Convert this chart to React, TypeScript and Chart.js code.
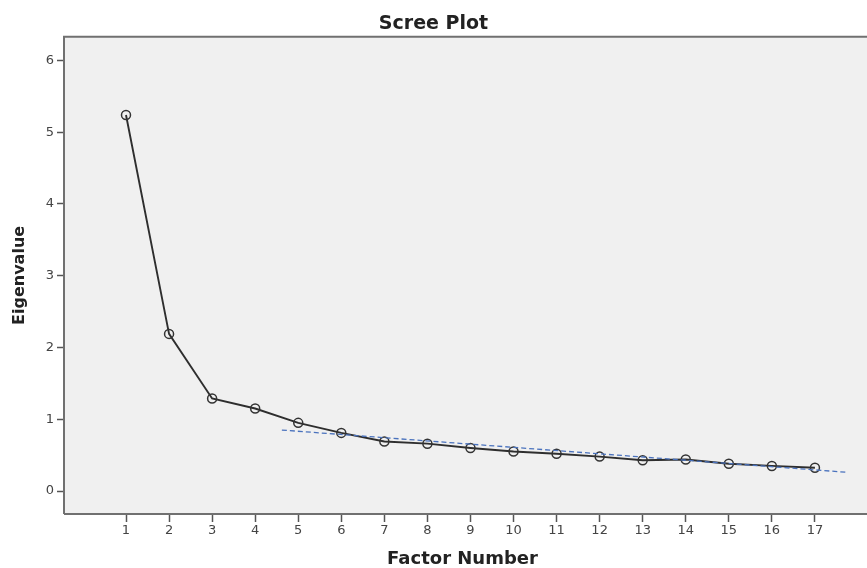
import React, { useEffect, useRef } from "react";
import { Chart, registerables } from "chart.js";

Chart.register(...registerables);

const factorNumbers = [1, 2, 3, 4, 5, 6, 7, 8, 9, 10, 11, 12, 13, 14, 15, 16, 17];
const eigenvalues = [5.24, 2.19, 1.29, 1.15, 0.95, 0.81, 0.69, 0.66, 0.6, 0.55, 0.52, 0.48, 0.43, 0.44, 0.38, 0.35, 0.325];
const trendX = [4.62, 17.77];
const trendY = [0.85, 0.26];
const yTicks = [0, 1, 2, 3, 4, 5, 6];
const xTicks = factorNumbers;

const TITLE = "Scree Plot";
const X_TITLE = "Factor Number";
const Y_TITLE = "Eigenvalue";

const plotBg = {
  id: "plotBg",
  beforeDatasetsDraw(chart: any) {
    const { ctx, chartArea } = chart;
    ctx.save();
    ctx.fillStyle = "#f0f0f0";
    ctx.fillRect(chartArea.left, chartArea.top, chart.width - chartArea.left, chartArea.bottom - chartArea.top);
    ctx.restore();
  },
  afterDraw(chart: any) {
    const { ctx, chartArea } = chart;
    ctx.save();
    ctx.strokeStyle = "#707070";
    ctx.lineWidth = 2;
    ctx.beginPath();
    ctx.moveTo(chartArea.left, chartArea.bottom);
    ctx.lineTo(chartArea.left, chartArea.top);
    ctx.lineTo(chart.width, chartArea.top);
    ctx.moveTo(chartArea.left, chartArea.bottom);
    ctx.lineTo(chart.width, chartArea.bottom);
    ctx.stroke();
    ctx.restore();
  },
};

export default function App() {
  const ref = useRef<HTMLCanvasElement | null>(null);
  useEffect(() => {
    document.body.style.margin = "0";
    const canvas = ref.current!;
    const chart = new Chart(canvas, {
      type: "line",
      data: {
        datasets: [
          {
            label: "trend",
            data: trendX.map((x, i) => ({ x, y: trendY[i] })),
            borderColor: "#4a72bd",
            borderWidth: 1.3,
            borderDash: [5, 3],
            pointRadius: 0,
            fill: false,
            order: 0,
          },
          {
            label: "Eigenvalue",
            data: factorNumbers.map((x, i) => ({ x, y: eigenvalues[i] })),
            borderColor: "#2e2e2e",
            borderWidth: 1.9,
            pointRadius: 4.5,
            pointBorderWidth: 1.5,
            pointBorderColor: "#333333",
            pointBackgroundColor: "rgba(0,0,0,0)",
            fill: false,
            tension: 0,
            order: 1,
          },
        ],
      },
      options: {
        responsive: false,
        animation: false,
        devicePixelRatio: 1,
        layout: { padding: { left: 0, right: 0, top: 0, bottom: 0 } },
        plugins: {
          legend: { display: false },
          tooltip: { enabled: false },
          title: {
            display: true,
            text: TITLE,
            color: "#222",
            font: { family: "DejaVu Sans", size: 19, weight: "bold" },
            padding: { top: 13, bottom: 1 },
          },
        },
        scales: {
          x: {
            type: "linear",
            min: -0.44,
            max: 18.07,
            afterBuildTicks: (s: any) => {
              s.ticks = xTicks.map((v) => ({ value: v }));
            },
            afterFit: (s: any) => {
              s.height = 54;
              s.paddingRight = 0;
              s.paddingLeft = 0;
            },
            grid: {
              drawOnChartArea: false,
              drawTicks: true,
              tickLength: 8,
              tickColor: "#555",
              tickWidth: 1.5,
            },
            border: { display: false },
            ticks: {
              color: "#444",
              padding: 1,
              maxRotation: 0,
              autoSkip: false,
              font: { family: "DejaVu Sans", size: 13 },
            },
            title: {
              display: true,
              text: X_TITLE,
              color: "#222",
              font: { family: "DejaVu Sans", size: 18, weight: "bold", lineHeight: 1.0 },
              padding: { top: 4, bottom: 0 },
            },
          },
          y: {
            type: "linear",
            min: -0.32,
            max: 6.33,
            afterBuildTicks: (s: any) => {
              s.ticks = yTicks.map((v) => ({ value: v }));
            },
            afterFit: (s: any) => {
              s.width = 64;
            },
            grid: {
              drawOnChartArea: false,
              drawTicks: true,
              tickLength: 7,
              tickColor: "#555",
              tickWidth: 1.5,
            },
            border: { display: false },
            ticks: {
              color: "#444",
              padding: 3,
              font: { family: "DejaVu Sans", size: 13 },
            },
            title: {
              display: true,
              text: Y_TITLE,
              color: "#222",
              font: { family: "DejaVu Sans", size: 16, weight: "bold" },
              padding: { top: 10, bottom: 0 },
            },
          },
        },
      },
      plugins: [plotBg],
    });
    return () => chart.destroy();
  }, []);
  return <canvas ref={ref} width={867} height={568} style={{ display: "block", width: 867, height: 568 }} />;
}
